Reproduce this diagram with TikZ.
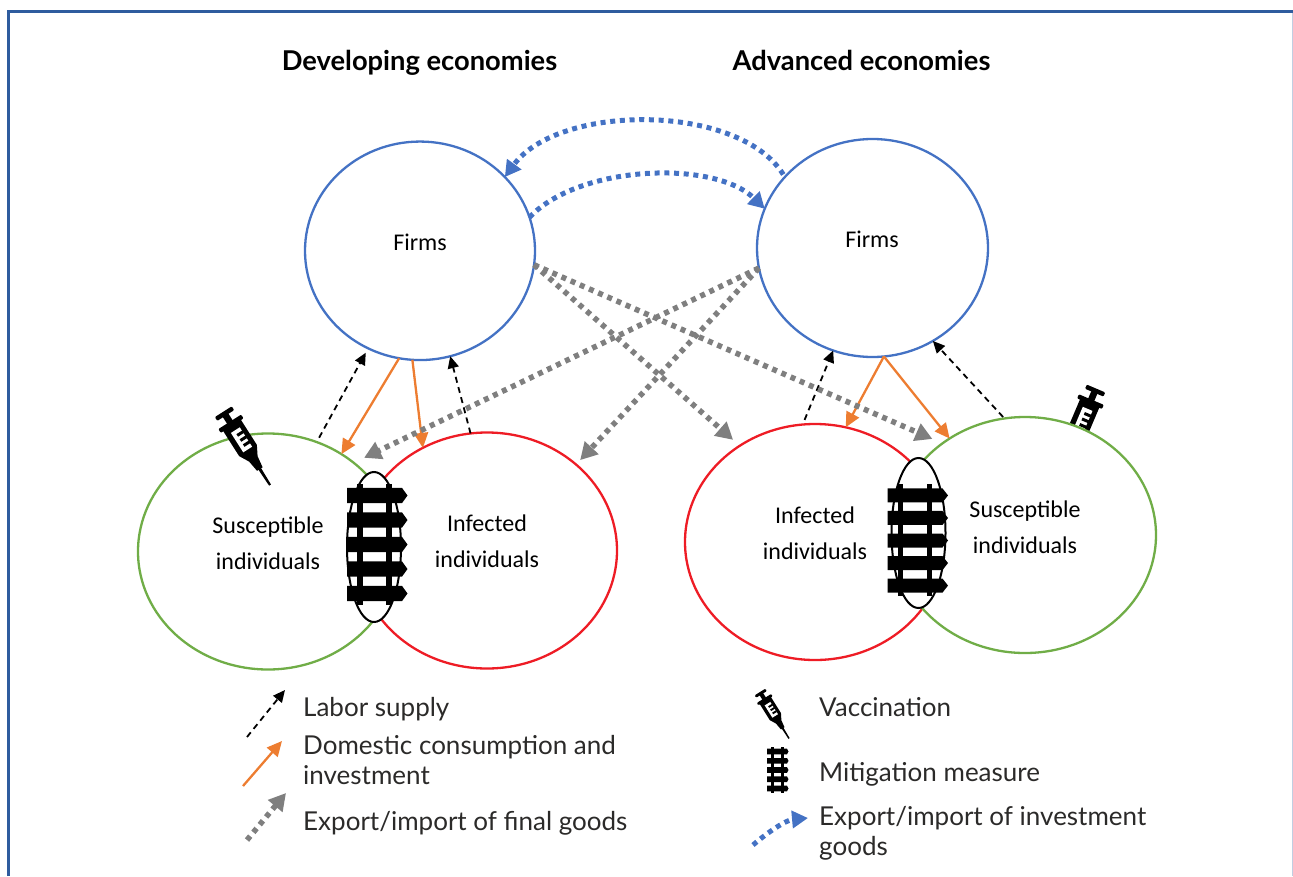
\documentclass[tikz,border=0pt]{standalone}
\usepackage{fontspec}
\setmainfont{Lato}
\newfontfamily\calib{Carlito}
\usetikzlibrary{arrows.meta,shapes.geometric}
\definecolor{frameblue}{HTML}{2F5C9E}
\definecolor{cblue}{HTML}{4472C4}
\definecolor{cgreen}{HTML}{70AD47}
\definecolor{cred}{HTML}{EE1C25}
\definecolor{corange}{HTML}{ED7D31}
\definecolor{cgrey}{HTML}{7F7F7F}
\definecolor{txt}{HTML}{2B2A29}
\tikzset{
  x=1pt,y=-1pt,
  blob/.style={ellipse,inner sep=0pt,outer sep=0pt,fill=white,line width=2.3pt},
  firm/.style={blob,draw=cblue,minimum width=230pt},
  sus/.style={blob,draw=cgreen,minimum width=260pt,minimum height=236pt},
  inf/.style={blob,draw=cred,minimum width=260pt,minimum height=236pt},
  lens/.style={ellipse,inner sep=0pt,outer sep=0pt,fill=white,draw=black,line width=2pt,minimum width=54pt,minimum height=150pt},
  lab/.style={font=\calib\fontsize{24}{36}\selectfont,align=center,text=black,inner sep=0pt},
  head/.style={font=\bfseries\fontsize{27.3}{30}\selectfont,text=black,inner sep=0pt,anchor=base},
  leg/.style={font=\fontsize{26}{30}\selectfont,text=txt,align=left,anchor=west,inner sep=0pt},
  legb/.style={font=\fontsize{26}{30}\selectfont,text=txt,anchor=base west,inner sep=0pt},
  labor/.style={-{Triangle[length=12pt,width=11pt]},black,line width=1.8pt,dash pattern=on 6pt off 4.5pt},
  dom/.style={-{Triangle[length=15pt,width=14pt]},corange,line width=2.3pt},
  finalg/.style={-{Triangle[length=17pt,width=18pt]},cgrey,line width=5.5pt,dash pattern=on 5pt off 5pt},
  invest/.style={-{Triangle[length=16pt,width=17pt]},cblue,line width=5pt,dash pattern=on 5pt off 4.7pt},
  syringe/.pic={
    \fill[black,rounded corners=1pt] (0,-10) rectangle (4.5,10);
    \fill[black] (3,-3.3) rectangle (13,3.3);
    \fill[black,rounded corners=1pt] (12,-13.5) rectangle (16.5,13.5);
    \fill[black] (15,-10.5) -- (46,-10.5) -- (56,-5) -- (68,-3.3) -- (68,3.3) -- (56,5) -- (46,10.5) -- (15,10.5) -- cycle;
    \fill[black] (66,-1.6) -- (87,-1.1) -- (87,1.1) -- (66,1.6) -- cycle;
    \fill[white] (22,-5.5) rectangle (45,5);
    \fill[black] (26,-6) rectangle (29,1) (32,-6) rectangle (35,1) (38,-6) rectangle (41,1);
  },
  trackpic/.pic={
    \fill[black] (-14.5-2.8,-61) rectangle (-14.5+2.8,60);
    \fill[black] (14.5-2.8,-61) rectangle (14.5+2.8,60);
    \foreach \yy in {-49,-24.5,0,24.5,49}{
      \fill[black] (-27.5,\yy-7.6) -- (27.5,\yy-7.6) -- (33,\yy) -- (27.5,\yy+7.6) -- (-27.5,\yy+7.6) -- cycle;
    }
  },
  legtrack/.pic={
    \fill[black] (-6.5,-23) rectangle (-3.5,23);
    \fill[black] (3.5,-23) rectangle (6.5,23);
    \foreach \yy in {-18.5,-9.2,0,9.2,18.5}{
      \fill[black] (-10.5,\yy-2.8) -- (9.5,\yy-2.8) -- (11,\yy) -- (9.5,\yy+2.8) -- (-10.5,\yy+2.8) -- cycle;
    }
  },
}
\begin{document}
\begin{tikzpicture}
\useasboundingbox (0,0) rectangle (1293,876);
% frame
\draw[frameblue,line width=3pt] (8.5,876) -- (8.5,11.5) -- (1293,11.5);
\draw[frameblue!30,line width=1.2pt] (1292.5,13) -- (1292.5,876);
% headings
\node[head] (hdev) at (419.5,70) {Developing economies};
\node[head] (hadv) at (861.5,70) {Advanced economies};
% right syringe sits behind the green circle
\pic[rotate=-113] at (1096,388.5) {syringe};
% circles
\node[firm,minimum height=218.5pt] (firmL) at (420,250.8) {};
\node[firm,minimum width=231pt,minimum height=218pt] (firmR) at (872.5,248) {};
\node[sus] (susL) at (268,551.5) {};
\node[inf] (infL) at (487,550.5) {};
\node[inf] (infR) at (815,542) {};
\node[sus,minimum width=262pt] (susR) at (1025,535) {};
\node[lens] (lensL) at (374,547) {};
\node[lens] (lensR) at (918.5,533) {};
% labels
\node[lab] (tfL) at (420,242) {Firms};
\node[lab] (tfR) at (872,239) {Firms};
\node[lab] (tsL) at (268,543) {Susceptible\\individuals};
\node[lab] (tiL) at (487,541.5) {Infected\\individuals};
\node[lab] (tiR) at (815,533) {Infected\\individuals};
\node[lab] (tsR) at (1025,527) {Susceptible\\individuals};
% symbols
\pic[rotate=-57.5] at (223.3,411.7) {syringe};
\pic at (374.5,544.5) {trackpic};
\pic[yscale=.92] at (915,540.5) {trackpic};
% labor supply
\draw[labor,shorten <=5pt,shorten >=5pt] (susL.66) -- (firmL.242);
\draw[labor] (infL.98) -- (firmL.286.6);
\draw[labor,shorten <=5pt] (infR.96.5) -- (firmR.249.2);
\draw[labor,shorten <=2pt] (susR.100.5) -- (firmR.303.5);
% domestic consumption
\draw[dom] (firmL.259.5) -- (susL.53.2);
\draw[dom] (firmL.266) -- (infL.122);
\draw[dom] (firmR.276.4) -- (infR.75.4);
\draw[dom] (firmR.276.4) -- (susR.128.7);
% final goods
\draw[finalg,shorten >=9pt] (firmL.353) -- (infR.128.1);
\draw[finalg,shorten >=11pt] (firmL.353) -- (susR.132.8);
\draw[finalg,shorten >=11.5pt] (firmR.190) -- (susL.46);
\draw[finalg,shorten >=6pt] (firmR.190) -- (infL.44.7);
% investment goods
\draw[invest,shorten <=3pt] (firmR.141.6) .. controls +(-46,-74) and +(54,-74) .. (firmL.41);
\draw[invest] (firmL.17.4) .. controls +(50,-53) and +(-50,-49) .. (firmR.160.8);
% legend
\coordinate (a1) at (247,737); \coordinate (a2) at (285,690);
\coordinate (b1) at (243,786); \coordinate (b2) at (282,741);
\coordinate (c1) at (247,840); \coordinate (c2) at (286,793);
\coordinate (d1) at (753,845); \coordinate (d2) at (808,818);
\draw[labor] (a1) -- (a2);
\draw[dom] (b1) -- (b2);
\draw[finalg] (c1) -- (c2);
\draw[invest] (d1) .. controls +(15,-13) and +(-22,2) .. (d2);
\pic[rotate=-58,scale=.63] at (760,692) {syringe};
\pic at (777.5,770) {legtrack};
\node[legb] (l1) at (303,716) {Labor supply};
\node[leg] (l2) at (303,760) {Domestic consumption and\\investment};
\node[legb] (l3) at (303,830) {Export/import of final goods};
\node[legb] (l4) at (819,716) {Vaccination};
\node[legb] (l5) at (819,781) {Mitigation measure};
\node[leg] (l6) at (819,833.5) {Export/import of investment\\goods};
\end{tikzpicture}
\end{document}
